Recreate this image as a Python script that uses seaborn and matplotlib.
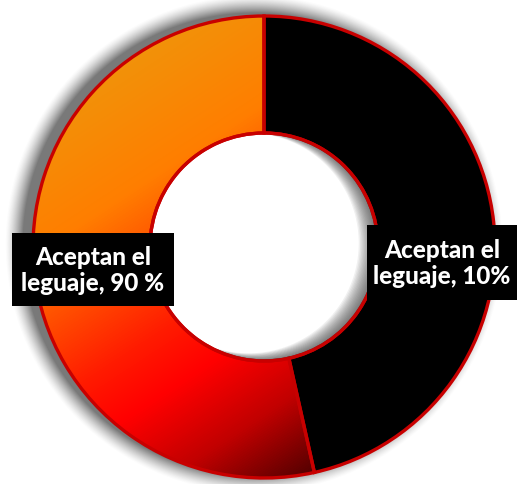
import numpy as np
import matplotlib
matplotlib.use("Agg")
import matplotlib.pyplot as plt
from matplotlib.colors import LinearSegmentedColormap
from matplotlib.patches import Circle, Rectangle, PathPatch
from matplotlib.path import Path
import seaborn as sns

# Slice shares (percent of the ring) and their printed labels
etiquetas = ["Aceptan el\nleguaje, 10%", "Aceptan el\nleguaje, 90 %"]
porcentajes = [46.5, 53.5]

sns.set_theme(style="white")
plt.rcParams["font.family"] = ["Lato", "DejaVu Sans"]

W, H = 517, 484
fig = plt.figure(figsize=(W / 100, H / 100), dpi=100)
ax = fig.add_axes([0, 0, 1, 1])

cx, cy = 264, 247
r_out, r_in = 231, 114
borde = "#C80000"

yy, xx = np.mgrid[0:H, 0:W] + 0.5
radio = np.hypot(xx - cx, yy - cy)

# soft drop shadow around the outer edge
d_sh = np.hypot(xx - (cx - 10), yy - (cy - 3)) - r_out
a_sh = np.clip(1 - d_sh / 18, 0, 1) ** 1.4 * 0.75
a_sh[radio < r_out - 2] = 0
sombra = np.zeros((H, W, 4))
sombra[..., :3] = 0.3
sombra[..., 3] = a_sh
ax.imshow(sombra, extent=(0, W, H, 0), origin="upper", zorder=1, interpolation="bilinear")

wedges, _ = ax.pie(
    porcentajes,
    colors=["black", "none"],
    startangle=-90,
    counterclock=True,
    center=(cx, cy),
    radius=r_out,
    wedgeprops=dict(width=r_out - r_in, edgecolor=borde, linewidth=2.4),
)
for w in wedges:
    w.set_zorder(3)

# diagonal warm gradient filling the larger slice
grad = LinearSegmentedColormap.from_list(
    "calido",
    [(0.0, "#E8A010"), (0.36, "#FF7E00"), (0.62, "#FF1A00"), (0.72, "#FF0000"),
     (0.86, "#C00000"), (1.0, "#550000")],
)
p0 = np.array([30.0, 30.0])
p1 = np.array([318.0, 470.0])
v = p1 - p0
t = ((xx - p0[0]) * v[0] + (yy - p0[1]) * v[1]) / (v @ v)
img = ax.imshow(grad(np.clip(t, 0, 1)), extent=(0, W, H, 0), origin="upper",
                zorder=2, interpolation="bilinear")
img.set_clip_path(wedges[1])


def circulo(x0, y0, r, sentido=1, n=180):
    ang = np.linspace(0, 2 * np.pi, n)[::sentido]
    return np.column_stack([x0 + r * np.cos(ang), y0 + r * np.sin(ang)])


# inner shadow inside the hole: stacked crescents, heavier on the right
hole_clip = Circle((cx, cy), r_in, transform=ax.transData)
contorno = circulo(cx, cy, r_in + 1)
for k in range(1, 15):
    s = 1.1 * k
    inner = circulo(cx - s, cy - 0.25 * s, r_in - 0.25 * s, sentido=-1)
    verts = np.vstack([contorno, inner])
    codes = ([Path.MOVETO] + [Path.LINETO] * (len(contorno) - 1)
             + [Path.MOVETO] + [Path.LINETO] * (len(inner) - 1))
    pp = PathPatch(Path(verts, codes), fc="#3a3a3a", ec="none", alpha=0.075, zorder=3.5)
    ax.add_patch(pp)
    pp.set_clip_path(hole_clip)
ax.add_patch(Circle((cx, cy), r_in, fc="none", ec=borde, lw=2.4, zorder=3.6))

# labels in black boxes: (left, top, right, bottom) in pixels
cajas = [(367, 225, 517, 300), (12, 233, 174, 306)]
for (x0, y0, x1, y1), txt in zip(cajas, etiquetas):
    ax.add_patch(Rectangle((x0, y0), x1 - x0, y1 - y0, fc="black", ec="none", zorder=4))
    ax.text((x0 + x1) / 2, (y0 + y1) / 2 + 1, txt, ha="center", va="center", color="white",
            fontsize=17.5, fontweight="black", linespacing=1.2, zorder=5)

ax.set_xlim(0, W)
ax.set_ylim(H, 0)
ax.set_aspect("equal")
ax.axis("off")
fig.savefig("out.png", dpi=100, facecolor="white")
